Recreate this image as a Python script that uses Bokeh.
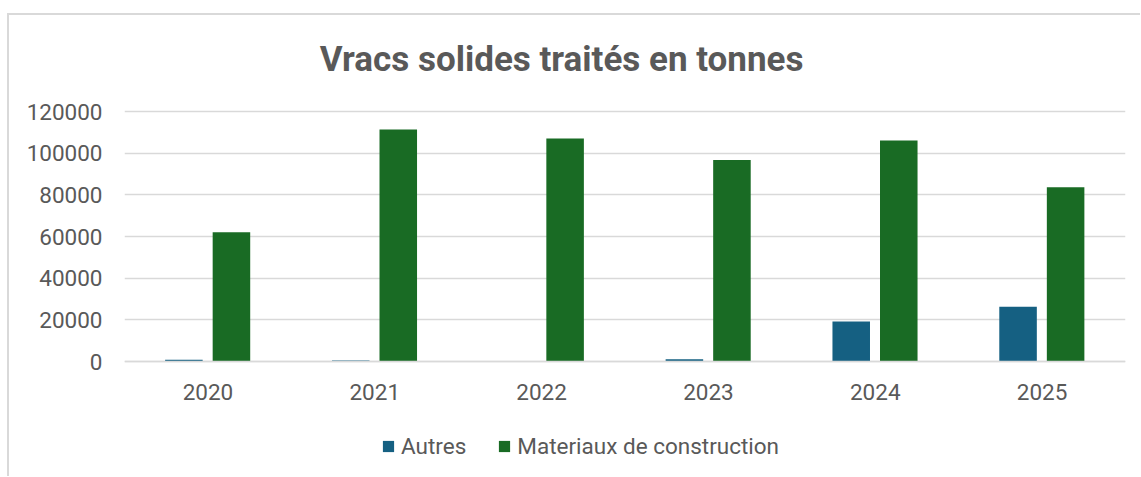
from bokeh.plotting import figure
from bokeh.models import ColumnDataSource, FactorRange, Legend, LegendItem, BasicTickFormatter, FixedTicker, Label
from bokeh.transform import dodge
from bokeh.embed import file_html
from bokeh.resources import INLINE

title_text = "Vracs solides traités en tonnes"
years = ["2020", "2021", "2022", "2023", "2024", "2025"]
autres = [800, 500, 300, 1100, 19200, 26300]
materiaux = [62000, 111400, 107000, 96700, 106100, 83600]
y_ticks = [0, 20000, 40000, 60000, 80000, 100000, 120000]

src = ColumnDataSource(dict(year=years, autres=autres, materiaux=materiaux))

FONT = "Roboto"
TXT = "#595959"

# 250 px per 120000; extra room above for the title and below for labels / legend
p = figure(x_range=FactorRange(*years), y_range=(-55200, 166080),
           frame_width=1001, frame_height=461, output_backend="svg", toolbar_location=None,
           min_border_left=115, min_border_right=15, min_border_top=0, min_border_bottom=0)
p.styles = {"margin-left": "7px", "margin-top": "13px",
            "border-left": "2px solid #d9d9d9", "border-top": "2px solid #d9d9d9"}

p.add_layout(Label(x=2.62, y=145200, text=title_text, text_align="center",
                   text_baseline="alphabetic", text_font=FONT, text_font_size="35px",
                   text_font_style="bold", text_color=TXT))

r1 = p.vbar(x=dodge("year", -0.144, range=p.x_range), top="autres", width=0.225,
            source=src, fill_color="#156082", line_color=None)
r2 = p.vbar(x=dodge("year", 0.141, range=p.x_range), top="materiaux", width=0.225,
            source=src, fill_color="#196B24", line_color=None)

p.outline_line_color = None
p.xgrid.grid_line_color = None
p.ygrid.grid_line_color = "#d9d9d9"
p.ygrid.grid_line_width = 1.5
p.ygrid.ticker = FixedTicker(ticks=y_ticks)

p.yaxis.ticker = FixedTicker(ticks=y_ticks)
p.yaxis.formatter = BasicTickFormatter(use_scientific=False)
p.yaxis.axis_line_color = None
p.yaxis.major_tick_line_color = None
p.yaxis.minor_tick_line_color = None
p.yaxis.major_label_text_font = FONT
p.yaxis.major_label_text_font_size = "22.5px"
p.yaxis.major_label_text_color = TXT
p.yaxis.major_label_standoff = 16

p.xaxis.fixed_location = 0
p.xaxis.axis_line_color = "#d9d9d9"
p.xaxis.axis_line_width = 1.5
p.xaxis.major_tick_line_color = None
p.xaxis.minor_tick_line_color = None
p.xaxis.major_label_text_font = FONT
p.xaxis.major_label_text_font_size = "22.5px"
p.xaxis.major_label_text_color = TXT
p.xaxis.major_label_standoff = 16

legend = Legend(items=[LegendItem(label="Autres", renderers=[r1]),
                       LegendItem(label="Materiaux de construction", renderers=[r2])],
                orientation="horizontal", location=(257, 17),
                glyph_width=14, glyph_height=14, label_standoff=6, spacing=31,
                label_text_font=FONT, label_text_font_size="22.5px", label_text_color=TXT,
                border_line_color=None, background_fill_alpha=0,
                padding=0, margin=0)
p.add_layout(legend, "center")

open("out.html", "w").write(file_html(p, INLINE))
